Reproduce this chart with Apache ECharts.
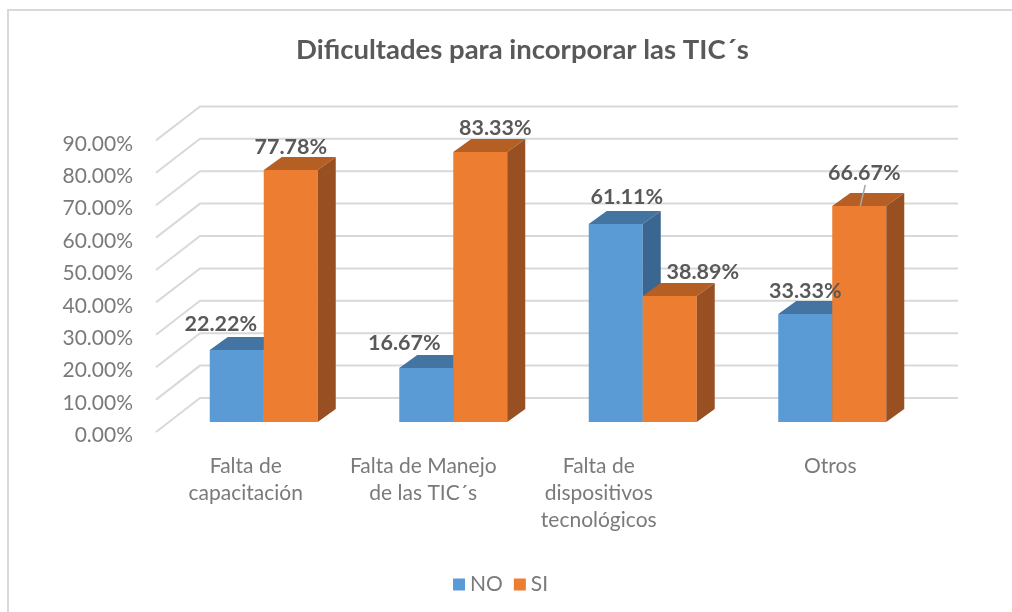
<!DOCTYPE html>
<html>
<head>
<meta charset="utf-8">
<script src="https://cdn.jsdelivr.net/npm/echarts@6/dist/echarts.min.js"></script>
<style>
html, body { margin: 0; background: #fff; }
#main { width: 1012px; height: 612px; }
</style>
</head>
<body>
<div id="main"></div>
<script>
// data
const categories = ['Falta de\ncapacitación', 'Falta de Manejo\nde las TIC´s', 'Falta de\ndispositivos\ntecnológicos', 'Otros'];
const noValues = [22.22, 16.67, 61.11, 33.33];
const siValues = [77.78, 83.33, 38.89, 66.67];
const tickValues = [0, 10, 20, 30, 40, 50, 60, 70, 80, 90];

const FONT = 'Lato';
const AXIS_GRAY = '#7a7a7a';
const BAR_DEPTH = [18, -13];   // back face offset of a bar
const WALL_BACK = [31, -24];   // back wall offset from the bar plane
const WALL_FRONT = [-13, 10];  // front edge of the floor
const BAR_W = 54;
const labelNudge = [36, 60, 88, 4]; // excel places category labels a bit left
// excel moves the data labels around so they don't collide
const noLabelShift = [[-16, -26], [-22, -25], [11, -27], [0, -23]];
const siLabelShift = [[0, -23], [15, -24], [33, -24], [5, -33]];

const myChart = echarts.init(document.getElementById('main'));

function wallItem(params, api) {
    const v = api.value(1);
    const p = api.coord([0, v]);
    const band = api.size([1, 0])[0];
    const left = p[0] - band / 2;
    const right = api.coord([categories.length - 1, v])[0] + band / 2;
    const y = p[1];
    return {
        type: 'polyline',
        shape: {
            points: [
                [left + WALL_FRONT[0], y + WALL_FRONT[1]],
                [left + WALL_BACK[0], y + WALL_BACK[1]],
                [right + WALL_BACK[0], y + WALL_BACK[1]]
            ]
        },
        style: { stroke: '#d9d9d9', lineWidth: 2, fill: null },
        silent: true
    };
}

function barItem(side, colors) {
    return function (params, api) {
        const i = api.value(0);
        const v = api.value(1);
        const top = api.coord([i, v]);
        const base = api.coord([i, 0]);
        const x0 = side < 0 ? top[0] - BAR_W : top[0];
        const x1 = x0 + BAR_W;
        const yt = top[1], yb = base[1];
        const dx = BAR_DEPTH[0], dy = BAR_DEPTH[1];
        return {
            type: 'group',
            children: [
                {
                    type: 'rect',
                    shape: { x: x0, y: yt, width: BAR_W, height: yb - yt },
                    style: { fill: colors[0] }
                },
                {
                    type: 'polygon',
                    shape: { points: [[x0, yt], [x1, yt], [x1 + dx, yt + dy], [x0 + dx, yt + dy]] },
                    style: { fill: colors[1] }
                },
                {
                    type: 'polygon',
                    shape: { points: [[x1, yt], [x1 + dx, yt + dy], [x1 + dx, yb + dy], [x1, yb]] },
                    style: { fill: colors[2] }
                }
            ]
        };
    };
}

function labelItem(side, shifts) {
    return function (params, api) {
        const i = api.value(0);
        const v = api.value(1);
        const top = api.coord([i, v]);
        const cx = top[0] + side * BAR_W / 2;
        const s = shifts[i];
        const children = [{
            type: 'text',
            style: {
                text: v.toFixed(2) + '%',
                x: cx + s[0],
                y: top[1] + s[1],
                align: 'center',
                verticalAlign: 'middle',
                fill: '#595959',
                font: 'bold 21.5px ' + FONT
            }
        }];
        if (s[1] < -30) {
            // leader line when the label got pushed up
            children.push({
                type: 'line',
                shape: { x1: cx + s[0] + 1, y1: top[1] + s[1] + 12, x2: cx + s[0] - 4, y2: top[1] },
                style: { stroke: '#a6a6a6', lineWidth: 1.5 }
            });
        }
        return { type: 'group', children: children };
    };
}

const rich = {};
labelNudge.forEach((n, i) => {
    rich['c' + i] = {
        fontFamily: FONT, fontSize: 21, color: AXIS_GRAY,
        lineHeight: 27, align: 'center', padding: [0, n, 0, 0]
    };
});

const option = {
    animation: false,
    title: {
        text: 'Dificultades para incorporar las TIC´s',
        left: 291,
        top: 31,
        textStyle: { fontFamily: FONT, fontSize: 27.5, fontWeight: 'bold', color: '#595959' }
    },
    legend: {
        data: ['NO', 'SI'],
        left: 448,
        top: 569,
        icon: 'rect',
        itemWidth: 12,
        itemHeight: 12,
        itemGap: 11,
        textStyle: { fontFamily: FONT, fontSize: 21, color: AXIS_GRAY }
    },
    grid: { left: 169, right: 85, top: 130.4, bottom: 190 },
    xAxis: {
        type: 'category',
        data: categories,
        axisLine: { show: false },
        axisTick: { show: false },
        axisLabel: {
            margin: 31,
            interval: 0,
            formatter: (value, index) => value.split('\n').map(l => '{c' + index + '|' + l + '}').join('\n'),
            rich: rich
        }
    },
    yAxis: {
        type: 'value',
        min: 0,
        max: 90,
        interval: 10,
        splitLine: { show: false },
        axisLine: { show: false },
        axisTick: { show: false },
        axisLabel: {
            margin: 36,
            formatter: v => '{t|' + v.toFixed(2) + '%}',
            rich: {
                t: { fontFamily: FONT, fontSize: 21, color: AXIS_GRAY, padding: [27, 0, 0, 0] }
            }
        }
    },
    graphic: [{
        type: 'rect',
        shape: { x: 8, y: 10, width: 1100, height: 700 },
        style: { fill: null, stroke: '#d9d9d9', lineWidth: 2 },
        silent: true
    }],
    series: [
        {
            type: 'custom',
            name: 'walls',
            renderItem: wallItem,
            data: tickValues.map(v => [0, v]),
            clip: false,
            silent: true,
            z: 1
        },
        {
            type: 'custom',
            name: 'NO',
            itemStyle: { color: '#5b9bd5' },
            renderItem: barItem(-1, ['#5b9bd5', '#4374a2', '#3a6690']),
            data: noValues.map((v, i) => [i, v]),
            clip: false,
            z: 2
        },
        {
            type: 'custom',
            name: 'SI',
            itemStyle: { color: '#ed7d31' },
            renderItem: barItem(1, ['#ed7d31', '#b65f25', '#985023']),
            data: siValues.map((v, i) => [i, v]),
            clip: false,
            z: 3
        },
        {
            type: 'custom',
            name: 'NO labels',
            renderItem: labelItem(-1, noLabelShift),
            data: noValues.map((v, i) => [i, v]),
            clip: false,
            silent: true,
            z: 5
        },
        {
            type: 'custom',
            name: 'SI labels',
            renderItem: labelItem(1, siLabelShift),
            data: siValues.map((v, i) => [i, v]),
            clip: false,
            silent: true,
            z: 5
        }
    ]
};

myChart.setOption(option);
</script>
</body>
</html>
